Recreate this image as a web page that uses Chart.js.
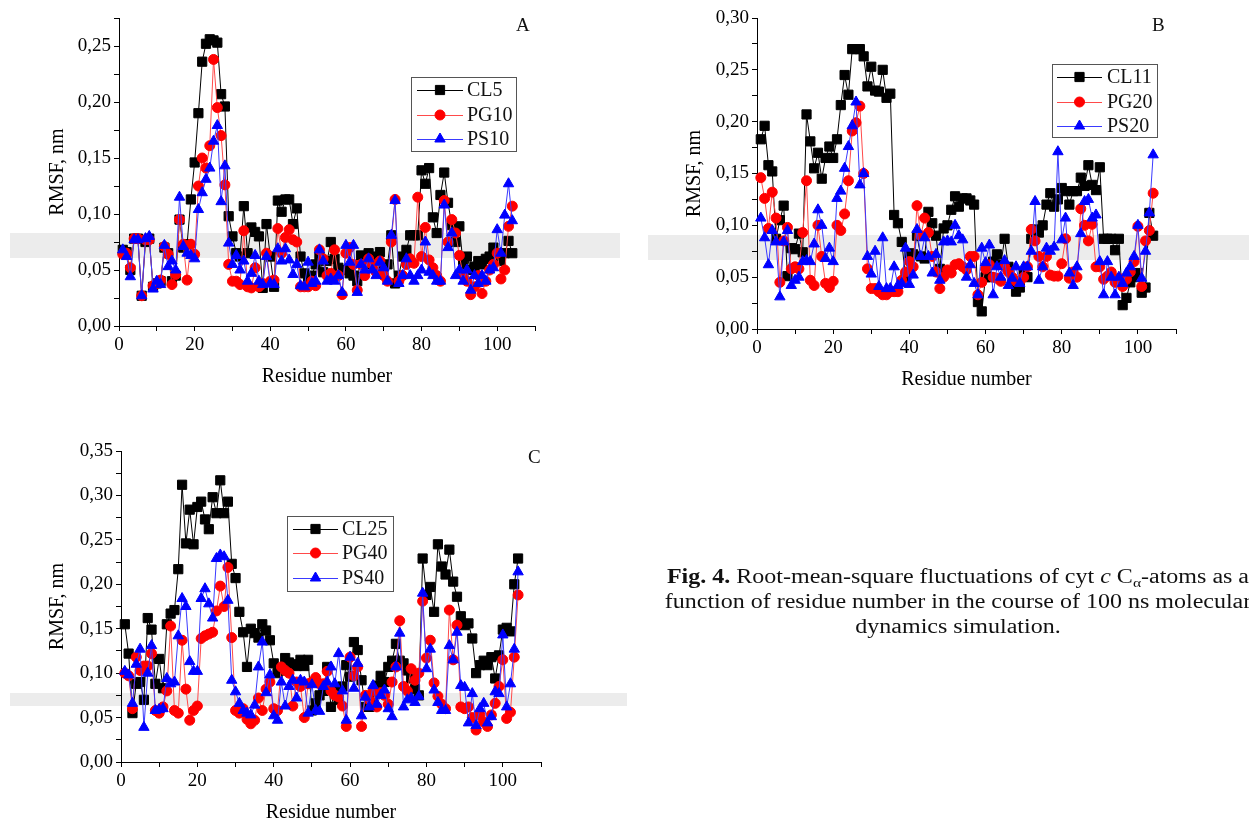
<!DOCTYPE html>
<html>
<head>
<meta charset="utf-8">
<title>RMSF of cyt c</title>
<script src="https://cdn.jsdelivr.net/npm/chart.js@4.4.0/dist/chart.umd.min.js"></script>
<style>
  body { margin: 0; background: #fff; width: 1249px; height: 823px; overflow: hidden; position: relative;
         font-family: 'Liberation Serif', 'Times New Roman', serif; color: #111; }
  .band { position: absolute; background: #ececec; }
  canvas { position: absolute; }
  .letter { position: absolute; font-size: 19px; line-height: 1; }
  .caption { position: absolute; left: 653px; top: 564px; width: 610px; text-align: center;
             font-size: 20px; line-height: 25px; white-space: nowrap; transform: scaleX(1.2); transform-origin: 305px 0; }
  .caption sub { font-size: 13px; line-height: 0; vertical-align: -4px; }
</style>
</head>
<body>
<!-- light grey scan bands behind the plots -->
<div class="band" style="left:10px;top:233px;width:610px;height:25px"></div>
<div class="band" style="left:648px;top:235px;width:601px;height:25px"></div>
<div class="band" style="left:10px;top:693px;width:617px;height:13px"></div>

<canvas id="chartA" width="640" height="400" style="left:0;top:0"></canvas>
<canvas id="chartB" width="609" height="400" style="left:640px;top:0"></canvas>
<canvas id="chartC" width="640" height="403" style="left:0;top:420px"></canvas>

<div class="letter" style="left:516px;top:15px">A</div>
<div class="letter" style="left:1152px;top:15px">B</div>
<div class="letter" style="left:528px;top:447px">C</div>

<div class="caption"><b>Fig. 4.</b> Root-mean-square fluctuations of cyt <i>c</i> C<sub>α</sub>-atoms as a<br>function of residue number in the course of 100 ns molecular<br>dynamics simulation.</div>

<script>
// residue numbers (x categories)
const residues = [1,2,3,4,5,6,7,8,9,10,11,12,13,14,15,16,17,18,19,20,
  21,22,23,24,25,26,27,28,29,30,31,32,33,34,35,36,37,38,39,40,
  41,42,43,44,45,46,47,48,49,50,51,52,53,54,55,56,57,58,59,60,
  61,62,63,64,65,66,67,68,69,70,71,72,73,74,75,76,77,78,79,80,
  81,82,83,84,85,86,87,88,89,90,91,92,93,94,95,96,97,98,99,100,
  101,102,103,104];

// Panel A
const labelsA = ['CL5', 'PG10', 'PS10'];
const cl5 = [0.068,0.066,0.050,0.078,0.078,0.027,0.075,0.078,0.035,0.038,
  0.040,0.070,0.065,0.040,0.045,0.095,0.070,0.073,0.113,0.146,
  0.190,0.236,0.252,0.256,0.255,0.253,0.207,0.196,0.098,0.080,
  0.065,0.062,0.107,0.065,0.088,0.084,0.080,0.034,0.091,0.062,
  0.035,0.112,0.102,0.113,0.113,0.091,0.105,0.062,0.047,0.040,
  0.045,0.055,0.062,0.048,0.058,0.075,0.060,0.052,0.050,0.050,
  0.047,0.045,0.040,0.063,0.060,0.065,0.055,0.062,0.066,0.053,
  0.055,0.081,0.038,0.045,0.062,0.068,0.081,0.081,0.081,0.139,
  0.127,0.141,0.097,0.083,0.117,0.137,0.110,0.090,0.075,0.089,
  0.055,0.062,0.050,0.053,0.058,0.055,0.060,0.062,0.070,0.065,
  0.058,0.065,0.076,0.065];
const pg10 = [0.064,0.065,0.052,0.078,0.078,0.027,0.077,0.077,0.036,0.038,
  0.041,0.071,0.064,0.037,0.046,0.095,0.073,0.041,0.073,0.064,
  0.125,0.150,0.141,0.161,0.238,0.195,0.170,0.126,0.055,0.040,
  0.040,0.037,0.085,0.035,0.034,0.052,0.035,0.038,0.065,0.040,
  0.041,0.087,0.065,0.079,0.086,0.077,0.075,0.035,0.035,0.035,
  0.040,0.036,0.068,0.060,0.045,0.047,0.068,0.045,0.028,0.065,
  0.070,0.055,0.032,0.055,0.045,0.060,0.055,0.048,0.058,0.045,
  0.040,0.075,0.113,0.040,0.045,0.055,0.060,0.056,0.115,0.062,
  0.088,0.059,0.052,0.045,0.040,0.112,0.075,0.095,0.083,0.063,
  0.045,0.040,0.028,0.035,0.045,0.029,0.040,0.050,0.055,0.065,
  0.042,0.050,0.089,0.107];
const ps10 = [0.068,0.062,0.044,0.077,0.077,0.027,0.078,0.080,0.033,0.040,
  0.037,0.072,0.053,0.058,0.050,0.115,0.071,0.065,0.063,0.060,
  0.104,0.119,0.131,0.141,0.165,0.179,0.111,0.143,0.074,0.055,
  0.063,0.050,0.058,0.040,0.047,0.063,0.040,0.037,0.062,0.038,
  0.037,0.069,0.058,0.069,0.059,0.046,0.055,0.036,0.035,0.057,
  0.038,0.040,0.068,0.058,0.040,0.042,0.040,0.045,0.030,0.072,
  0.057,0.072,0.030,0.055,0.050,0.060,0.050,0.045,0.057,0.052,
  0.040,0.081,0.112,0.038,0.045,0.060,0.045,0.040,0.045,0.050,
  0.075,0.048,0.045,0.040,0.040,0.108,0.070,0.083,0.045,0.050,
  0.040,0.050,0.032,0.045,0.038,0.045,0.040,0.050,0.052,0.086,
  0.065,0.099,0.127,0.094];

// Panel B
const labelsB = ['CL11', 'PG20', 'PS20'];
const cl11 = [0.183,0.196,0.158,0.152,0.087,0.105,0.119,0.051,0.078,0.077,
  0.092,0.074,0.207,0.181,0.155,0.170,0.145,0.165,0.176,0.165,
  0.183,0.216,0.245,0.226,0.270,0.270,0.270,0.263,0.234,0.253,
  0.230,0.229,0.250,0.223,0.227,0.110,0.102,0.084,0.050,0.073,
  0.072,0.090,0.070,0.068,0.113,0.102,0.090,0.058,0.097,0.100,
  0.115,0.128,0.118,0.126,0.126,0.124,0.120,0.026,0.017,0.050,
  0.050,0.065,0.072,0.062,0.087,0.060,0.045,0.036,0.040,0.055,
  0.050,0.087,0.096,0.093,0.100,0.120,0.131,0.118,0.125,0.136,
  0.133,0.120,0.133,0.133,0.146,0.138,0.158,0.139,0.134,0.156,
  0.087,0.087,0.087,0.076,0.087,0.023,0.030,0.045,0.050,0.054,
  0.035,0.040,0.112,0.090];
const pg20 = [0.146,0.126,0.097,0.132,0.107,0.045,0.085,0.098,0.058,0.060,
  0.058,0.093,0.143,0.047,0.042,0.100,0.070,0.044,0.040,0.046,
  0.100,0.095,0.111,0.143,0.191,0.199,0.215,0.150,0.058,0.039,
  0.039,0.036,0.033,0.033,0.036,0.036,0.036,0.047,0.055,0.065,
  0.060,0.119,0.090,0.107,0.093,0.070,0.055,0.039,0.050,0.057,
  0.054,0.062,0.063,0.060,0.057,0.070,0.070,0.033,0.045,0.058,
  0.062,0.050,0.049,0.046,0.060,0.055,0.050,0.046,0.046,0.050,
  0.060,0.096,0.085,0.070,0.060,0.070,0.052,0.051,0.051,0.063,
  0.087,0.049,0.055,0.050,0.116,0.100,0.085,0.101,0.060,0.060,
  0.048,0.051,0.055,0.045,0.049,0.041,0.048,0.055,0.065,0.099,
  0.041,0.085,0.095,0.131];
const ps20 = [0.107,0.088,0.062,0.095,0.084,0.031,0.084,0.095,0.042,0.047,
  0.050,0.065,0.066,0.065,0.082,0.115,0.100,0.068,0.078,0.065,
  0.126,0.133,0.155,0.176,0.196,0.219,0.139,0.150,0.070,0.053,
  0.075,0.041,0.088,0.039,0.039,0.060,0.042,0.044,0.078,0.043,
  0.052,0.096,0.070,0.088,0.070,0.054,0.072,0.047,0.084,0.085,
  0.084,0.100,0.090,0.086,0.050,0.062,0.044,0.033,0.078,0.064,
  0.081,0.033,0.060,0.050,0.066,0.042,0.049,0.060,0.044,0.060,
  0.060,0.075,0.123,0.047,0.060,0.078,0.075,0.079,0.171,0.086,
  0.107,0.054,0.042,0.060,0.092,0.123,0.125,0.107,0.110,0.065,
  0.033,0.065,0.050,0.033,0.050,0.044,0.054,0.060,0.070,0.100,
  0.049,0.075,0.112,0.168];

// Panel C
const labelsC = ['CL25', 'PG40', 'PS40'];
const cl25 = [0.155,0.122,0.055,0.088,0.090,0.070,0.162,0.149,0.088,0.116,
  0.083,0.155,0.167,0.171,0.217,0.312,0.246,0.284,0.245,0.287,
  0.293,0.273,0.262,0.298,0.280,0.317,0.280,0.293,0.223,0.207,
  0.169,0.146,0.107,0.150,0.145,0.140,0.155,0.148,0.137,0.111,
  0.100,0.103,0.117,0.112,0.110,0.108,0.115,0.108,0.115,0.058,
  0.066,0.075,0.080,0.107,0.062,0.080,0.070,0.085,0.109,0.096,
  0.135,0.126,0.092,0.062,0.062,0.070,0.086,0.097,0.090,0.107,
  0.114,0.133,0.114,0.111,0.103,0.094,0.082,0.075,0.229,0.188,
  0.197,0.169,0.245,0.220,0.211,0.239,0.203,0.186,0.164,0.154,
  0.156,0.139,0.100,0.109,0.114,0.109,0.118,0.094,0.120,0.149,
  0.151,0.147,0.200,0.229];
const pg40 = [0.100,0.097,0.060,0.118,0.103,0.108,0.108,0.122,0.058,0.055,
  0.062,0.080,0.153,0.058,0.055,0.137,0.082,0.047,0.058,0.063,
  0.139,0.142,0.144,0.146,0.170,0.198,0.175,0.219,0.140,0.058,
  0.055,0.060,0.048,0.043,0.047,0.072,0.058,0.082,0.090,0.060,
  0.058,0.107,0.103,0.100,0.063,0.090,0.085,0.050,0.088,0.090,
  0.095,0.088,0.088,0.102,0.080,0.075,0.073,0.063,0.040,0.118,
  0.097,0.107,0.040,0.075,0.070,0.080,0.062,0.078,0.075,0.065,
  0.090,0.107,0.159,0.085,0.080,0.105,0.092,0.100,0.181,0.117,
  0.137,0.089,0.074,0.065,0.060,0.171,0.115,0.154,0.062,0.060,
  0.062,0.050,0.036,0.053,0.045,0.040,0.053,0.066,0.085,0.115,
  0.049,0.056,0.118,0.188];
const ps40 = [0.102,0.098,0.066,0.110,0.127,0.039,0.100,0.131,0.058,0.059,
  0.060,0.094,0.088,0.090,0.142,0.184,0.175,0.113,0.102,0.102,
  0.184,0.195,0.178,0.162,0.229,0.233,0.231,0.182,0.092,0.079,
  0.066,0.058,0.055,0.053,0.064,0.107,0.135,0.078,0.098,0.052,
  0.047,0.090,0.063,0.085,0.092,0.072,0.092,0.090,0.055,0.087,
  0.058,0.057,0.085,0.090,0.107,0.088,0.122,0.080,0.047,0.118,
  0.083,0.111,0.052,0.073,0.062,0.086,0.065,0.075,0.081,0.060,
  0.051,0.107,0.145,0.062,0.070,0.072,0.067,0.074,0.190,0.105,
  0.127,0.081,0.067,0.058,0.058,0.131,0.115,0.146,0.086,0.084,
  0.044,0.077,0.041,0.060,0.066,0.044,0.051,0.079,0.077,0.143,
  0.062,0.088,0.127,0.214];

const serif = "'Liberation Serif', 'Times New Roman', serif";
Chart.defaults.font.family = serif;
Chart.defaults.color = '#000';

// black squares / red circles / blue triangles
const styles = [
  { borderColor: '#000000', pointStyle: 'rect', pointRadius: 6.5, pointBackgroundColor: '#000000', pointBorderColor: '#000000', order: 2 },
  { borderColor: '#ff4a4a', pointStyle: 'circle', pointRadius: 5, pointBackgroundColor: '#ff0000', pointBorderColor: '#ff0000', order: 1 },
  { borderColor: '#3a3aff', pointStyle: 'triangle', pointRadius: 6, pointBackgroundColor: '#0000ff', pointBorderColor: '#0000ff', order: 0 }
];

function buildDatasets(labels, series) {
  return series.map((vals, i) => Object.assign({
    label: labels[i],
    data: vals.map((v, k) => ({ x: residues[k], y: v })),
    borderWidth: 1,
    pointBorderWidth: 1,
    tension: 0,
    clip: false
  }, styles[i]));
}

// legend drawn as a boxed key inside the plot
const legendBox = {
  id: 'legendBox',
  afterDatasetsDraw(chart, args, o) {
    const ctx = chart.ctx;
    ctx.save();
    ctx.fillStyle = '#fff';
    ctx.fillRect(o.x, o.y, o.w, o.h);
    ctx.strokeStyle = '#555';
    ctx.lineWidth = 1;
    ctx.strokeRect(o.x + 0.5, o.y + 0.5, o.w, o.h);
    ctx.font = '20px ' + serif;
    ctx.textBaseline = 'middle';
    chart.data.datasets.forEach((ds, i) => {
      const yy = o.rows[i];
      ctx.strokeStyle = ds.borderColor;
      ctx.lineWidth = 1;
      ctx.beginPath();
      ctx.moveTo(o.x1, yy + 0.5);
      ctx.lineTo(o.x2, yy + 0.5);
      ctx.stroke();
      ctx.fillStyle = ds.pointBackgroundColor;
      ctx.strokeStyle = ds.pointBorderColor;
      Chart.helpers.drawPoint(ctx, { pointStyle: ds.pointStyle, radius: ds.pointRadius, rotation: 0, borderWidth: 1 }, (o.x1 + o.x2) / 2, yy);
      ctx.fillStyle = '#111';
      ctx.fillText(ds.label, o.tx, yy + 1);
    });
    ctx.restore();
  }
};

function makeChart(id, labels, series, p) {
  return new Chart(document.getElementById(id), {
    type: 'line',
    data: { datasets: buildDatasets(labels, series) },
    plugins: [legendBox],
    options: {
      responsive: false,
      animation: false,
      events: [],
      layout: { padding: { top: p.top, right: p.right, left: 0, bottom: 0 } },
      plugins: {
        legend: { display: false },
        tooltip: { enabled: false },
        legendBox: p.legend
      },
      scales: {
        x: {
          type: 'linear',
          min: 0,
          max: 110,
          afterFit(scale) { scale.height = p.xh; },
          ticks: {
            stepSize: 10,
            autoSkip: false,
            maxRotation: 0,
            padding: 3,
            font: { size: 19 },
            callback: v => (v % 20 === 0 ? String(v) : '')
          },
          grid: { drawOnChartArea: false, tickLength: 5, tickColor: '#000' },
          border: { color: '#000', width: 1 },
          title: { display: true, text: 'Residue number', font: { size: 20 }, padding: { top: 0, bottom: p.xtb } }
        },
        y: {
          min: 0,
          max: p.ymax,
          afterFit(scale) { scale.width = p.yw; },
          ticks: {
            stepSize: 0.025,
            autoSkip: false,
            padding: 3,
            font: { size: 19 },
            callback: v => (Math.round(v * 1000) % 50 === 0 ? v.toFixed(2).replace('.', ',') : '')
          },
          grid: { drawOnChartArea: false, tickLength: 5, tickColor: '#000' },
          border: { color: '#000', width: 1 },
          title: { display: true, text: 'RMSF, nm', font: { size: 20 }, padding: { top: p.ytp, bottom: 0 } }
        }
      }
    }
  });
}

makeChart('chartA', labelsA, [cl5, pg10, ps10], {
  top: 18, right: 105, xh: 74, yw: 119, ymax: 0.275, xtb: 11, ytp: 46,
  legend: { x: 411, y: 77, w: 105, h: 74, rows: [90, 115, 139], x1: 417, x2: 463, tx: 467 }
});

makeChart('chartB', labelsB, [cl11, pg20, ps20], {
  top: 18, right: 73, xh: 71, yw: 117, ymax: 0.30, xtb: 8, ytp: 43,
  legend: { x: 412, y: 64, w: 105, h: 73, rows: [77, 102, 126], x1: 417, x2: 462, tx: 467 }
});

makeChart('chartC', labelsC, [cl25, pg40, ps40], {
  top: 31, right: 99, xh: 61, yw: 121, ymax: 0.35, xtb: -2, ytp: 46,
  legend: { x: 287, y: 96, w: 106, h: 75, rows: [109, 133, 158], x1: 293, x2: 338, tx: 342 }
});
</script>
</body>
</html>
